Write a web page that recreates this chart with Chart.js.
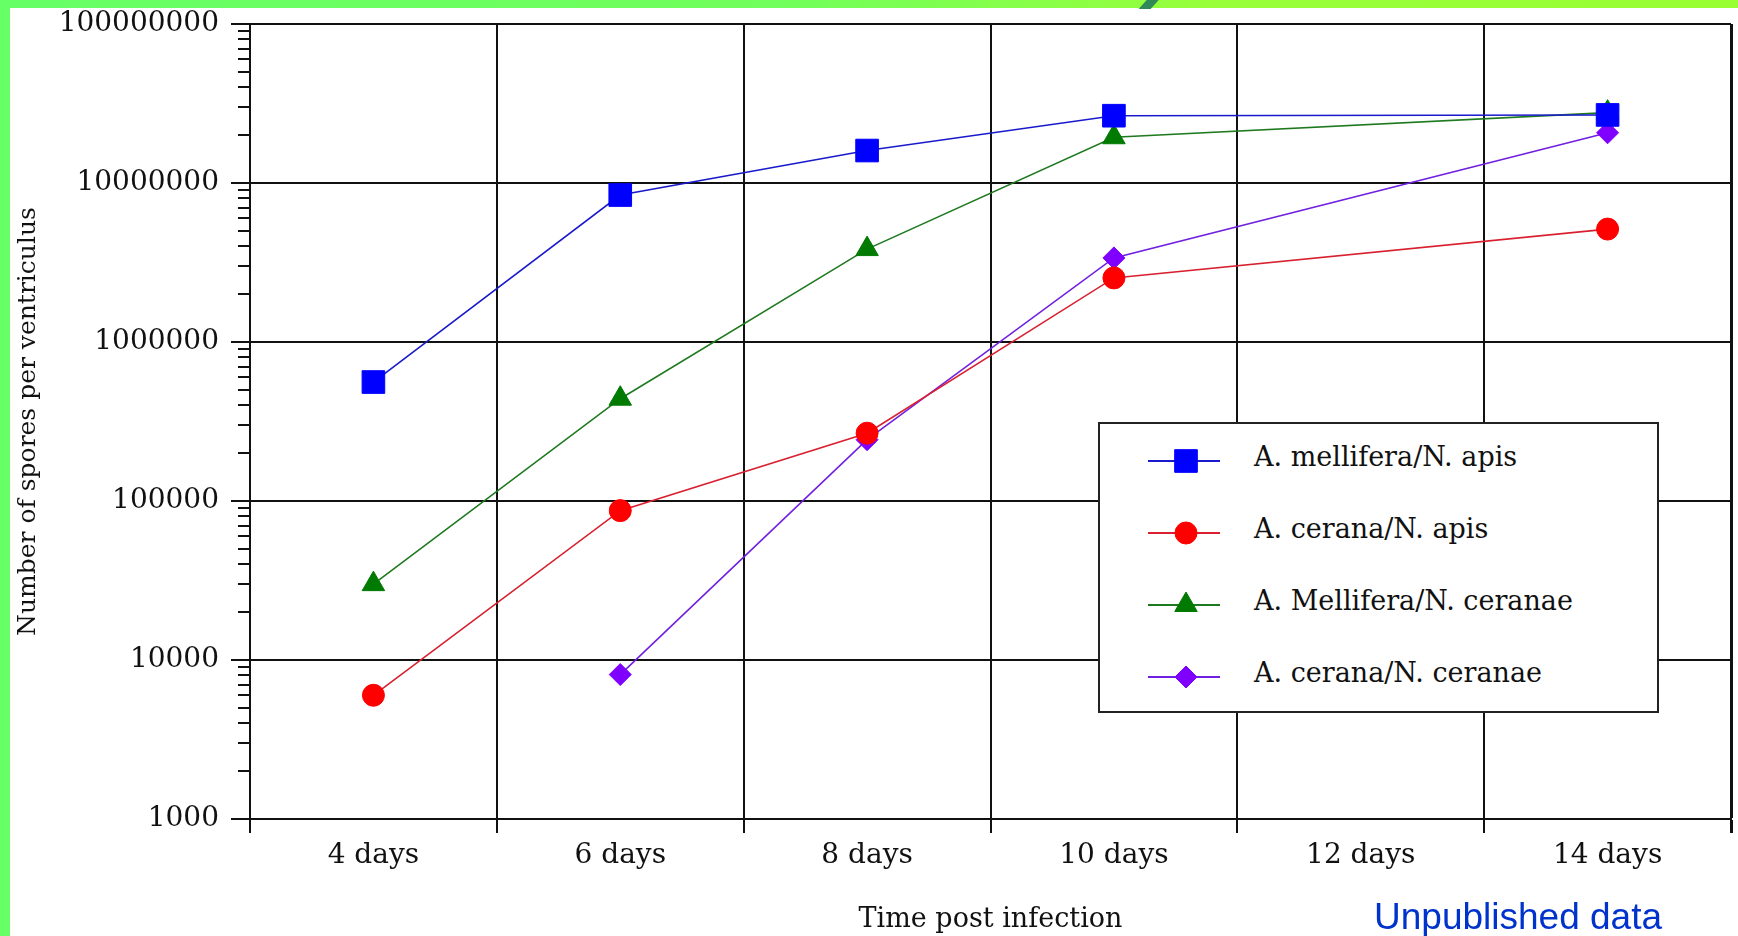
<!DOCTYPE html>
<html>
<head>
<meta charset="utf-8">
<script src="https://cdn.jsdelivr.net/npm/chart.js@4.4.1/dist/chart.umd.min.js"></script>
<style>
	html, body { margin: 0; padding: 0; background: #fff; }
	body { width: 1738px; height: 936px; position: relative; overflow: hidden; }
	#topbar { position: absolute; left: 0; top: 0; width: 1738px; height: 8px; background: linear-gradient(to right, #66ff66 0%, #70ff5c 45%, #99ff3a 70%, #99ff33 100%); }
	#swoosh { position: absolute; left: 1144px; top: -3px; width: 12px; height: 12px; background: #2f8a58; transform: skewX(-42deg); }
	#leftbar { position: absolute; left: 0; top: 0; width: 10px; height: 936px; background: #66ff66; }
	#chart { position: absolute; left: 0; top: 0; }
	#legend { position: absolute; left: 1098px; top: 422px; width: 557px; height: 287px; border: 2px solid #222; background: #fff; }
	.row { position: absolute; left: 0; height: 40px; }
	.row canvas { position: absolute; left: 46px; top: 0; }
	.row span { position: absolute; left: 154px; top: 0; line-height: 40px; white-space: nowrap; font: 27px "DejaVu Serif", serif; color: #111; }
	#note { position: absolute; left: 1374px; top: 898px; font: 37px "Liberation Sans", Arial, sans-serif; line-height: 37px; color: #0033cc; }
</style>
</head>
<body>
<div id="topbar"></div>
<div id="swoosh"></div>
<div id="leftbar"></div>
<canvas id="chart" width="1738" height="936"></canvas>
<div id="legend"></div>
<div id="note">Unpublished data</div>
<script>
// Data (spores per ventriculus)
const categories = ["4 days", "6 days", "8 days", "10 days", "12 days", "14 days"];
const melliferaApis = [560000, 8400000, 16000000, 26500000, null, 26800000];
const ceranaApis = [6000, 87000, 267000, 2530000, null, 5130000];
const melliferaCeranae = [30000, 440000, 3840000, 19400000, null, 27700000];
const ceranaCeranae = [null, 8100, 243000, 3380000, null, 20700000];

const seriesLabels = ["A. mellifera/N. apis", "A. cerana/N. apis", "A. Mellifera/N. ceranae", "A. cerana/N. ceranae"];
const yMin = 1000;
const yMax = 100000000;

const serif = '"DejaVu Serif", serif';
const ink = "#111";

function isDecade(v) {
	const l = Math.log10(v);
	return Math.abs(l - Math.round(l)) < 1e-9;
}

// short ticks between the decades on the y axis
const minorTicks = {
	id: "minorTicks",
	afterDraw(chart) {
		const ys = chart.scales.y;
		const ctx = chart.ctx;
		const left = chart.chartArea.left;
		ctx.save();
		ctx.strokeStyle = ink;
		ctx.lineWidth = 2;
		for (let e = Math.log10(yMin); e < Math.log10(yMax); e++) {
			for (let k = 2; k <= 9; k++) {
				const py = Math.round(ys.getPixelForValue(k * Math.pow(10, e)));
				ctx.beginPath();
				ctx.moveTo(left - 12, py);
				ctx.lineTo(left, py);
				ctx.stroke();
			}
		}
		ctx.restore();
	},
};

const datasets = [
	{ label: seriesLabels[0], data: melliferaApis, borderColor: "#1a1acc", backgroundColor: "#0000ff", pointStyle: "rect", pointRadius: 16 },
	{ label: seriesLabels[1], data: ceranaApis, borderColor: "#d82030", backgroundColor: "#ff0000", pointStyle: "circle", pointRadius: 11 },
	{ label: seriesLabels[2], data: melliferaCeranae, borderColor: "#1f7a1f", backgroundColor: "#007a00", pointStyle: "triangle", pointRadius: 13 },
	{ label: seriesLabels[3], data: ceranaCeranae, borderColor: "#7020e0", backgroundColor: "#8000ff", pointStyle: "rectRot", pointRadius: 11 },
].map((d) => ({
	...d,
	borderWidth: 1.6,
	pointBorderColor: d.backgroundColor,
	pointBackgroundColor: d.backgroundColor,
	pointBorderWidth: 1,
	pointHoverRadius: d.pointRadius,
	spanGaps: true,
	tension: 0,
}));

const chart = new Chart(document.getElementById("chart"), {
	type: "line",
	data: { labels: categories, datasets: datasets },
	options: {
		responsive: false,
		animation: false,
		devicePixelRatio: 1,
		layout: { autoPadding: false, padding: { left: 10, top: 24, right: 7, bottom: 0 } },
		plugins: { legend: { display: false }, tooltip: { enabled: false } },
		scales: {
			x: {
				type: "category",
				offset: true,
				grid: { offset: true, color: ink, lineWidth: (c) => (c.type === "scale" ? 3 : 2), tickLength: 14, tickColor: ink },
				border: { color: ink, width: 2 },
				ticks: { color: ink, font: { family: serif, size: 28 }, padding: 6, maxRotation: 0 },
				title: { display: true, text: "Time post infection", color: ink, font: { family: serif, size: 27 }, padding: { top: 0, bottom: 0 } },
				afterFit: (s) => {
					s.height = 117;
					s.paddingLeft = 0;
					s.paddingRight = 0;
				},
			},
			y: {
				type: "logarithmic",
				min: yMin,
				max: yMax,
				afterBuildTicks: (s) => { s.ticks = s.ticks.filter((t) => isDecade(t.value)); },
				grid: { color: ink, lineWidth: 2, tickLength: 19, tickColor: ink },
				border: { color: ink, width: 2 },
				ticks: { color: ink, font: { family: serif, size: 28 }, padding: 12, callback: (v) => String(v) },
				title: { display: true, text: "Number of spores per ventriculus", color: ink, font: { family: serif, size: 25 }, padding: { top: 3, bottom: 0 } },
				afterFit: (s) => {
					s.width = 240;
					s.paddingTop = 0;
					s.paddingBottom = 0;
				},
			},
		},
	},
	plugins: [minorTicks],
});

// Legend box: line sample with the marker, then the label
const legendEl = document.getElementById("legend");
const rowTops = [17, 89, 161, 233];
datasets.forEach((d, i) => {
	const row = document.createElement("div");
	row.className = "row";
	row.style.top = rowTops[i] + "px";
	const c = document.createElement("canvas");
	c.width = 76;
	c.height = 40;
	const g = c.getContext("2d");
	g.strokeStyle = d.borderColor;
	g.lineWidth = 2;
	g.beginPath();
	g.moveTo(2, 20);
	g.lineTo(74, 20);
	g.stroke();
	g.fillStyle = d.backgroundColor;
	g.strokeStyle = d.backgroundColor;
	g.lineWidth = 1;
	Chart.helpers.drawPoint(g, { pointStyle: d.pointStyle, radius: d.pointRadius, rotation: 0, borderWidth: 1 }, 40, 20);
	row.appendChild(c);
	const t = document.createElement("span");
	t.textContent = d.label;
	row.appendChild(t);
	legendEl.appendChild(row);
});
</script>
</body>
</html>
